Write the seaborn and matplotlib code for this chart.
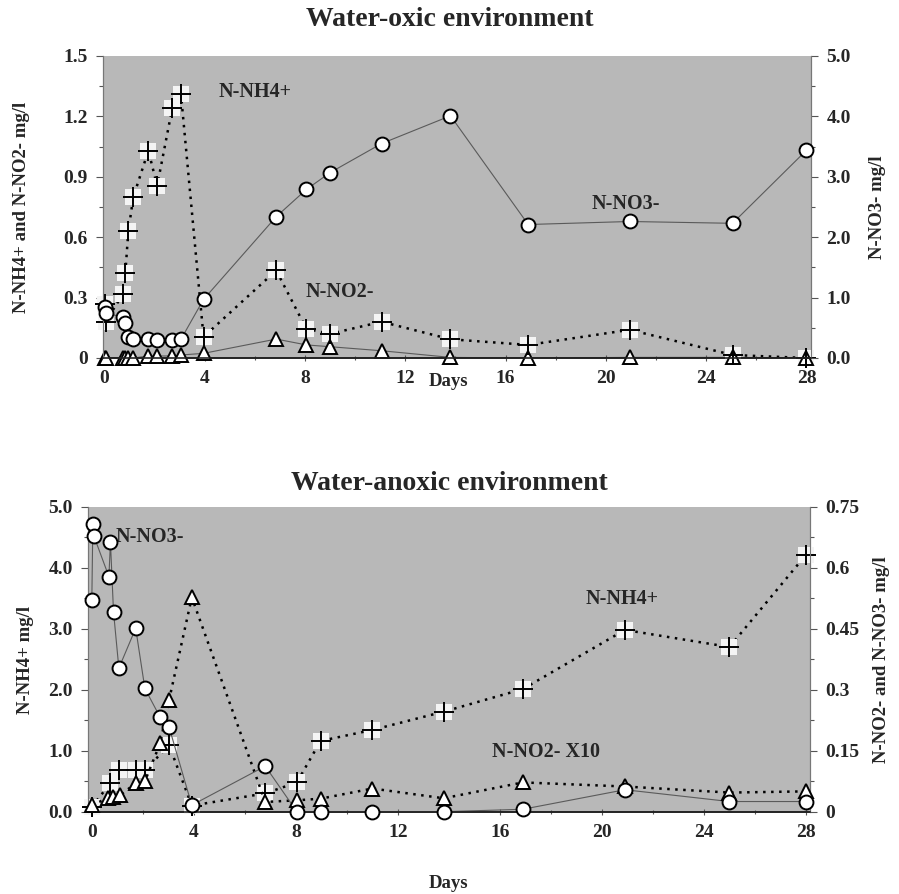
import numpy as np
import pandas as pd
import matplotlib
matplotlib.use("Agg")
import matplotlib.pyplot as plt
from matplotlib.ticker import MultipleLocator, FixedLocator, FixedFormatter
import seaborn as sns

# ---------------- data: top panel (Water-oxic environment) ----------------
oxic_days = [0, 0.04, 0.75, 0.83, 0.95, 1.15, 1.75, 2.1, 2.7, 3.05, 3.95,
             6.85, 8.05, 9.0, 11.05, 13.8, 16.9, 20.95, 25.05, 28]
oxic_nh4 = [0.27, 0.18, 0.32, 0.42, 0.63, 0.80, 1.03, 0.855, 1.24, 1.31, 0.105,
            0.435, 0.145, 0.12, 0.18, 0.093, 0.065, 0.14, 0.015, 0.0]
oxic_no2 = [0.0, 0.0, 0.0, 0.0, 0.0, 0.0, 0.01, 0.01, 0.01, 0.015, 0.023,
            0.094, 0.065, 0.056, 0.036, 0.003, 0.0, 0.003, 0.003, 0.0]
oxic_no3 = [0.85, 0.74, 0.68, 0.58, 0.35, 0.31, 0.31, 0.30, 0.30, 0.31, 0.97,
            2.34, 2.79, 3.07, 3.55, 4.01, 2.21, 2.26, 2.23, 3.44]

# ---------------- data: bottom panel (Water-anoxic environment) ----------------
anox_days_no3 = [0, 0.04, 0.08, 0.67, 0.73, 0.85, 1.06, 1.72, 2.08, 2.68, 3.03,
                 3.92, 6.8, 8.04, 8.97, 11.0, 13.8, 16.9, 20.9, 25.0, 28.0]
anox_no3 = [0.52, 0.708, 0.678, 0.578, 0.663, 0.492, 0.353, 0.451, 0.303, 0.232,
            0.208, 0.016, 0.112, 0.0, 0.0, 0.0, 0.0, 0.006, 0.054, 0.025, 0.025]

anox_days_nh4 = [0, 0.73, 1.06, 1.72, 2.08, 3.03, 3.92, 6.8, 8.04, 8.97, 11.0,
                 13.8, 16.9, 20.9, 25.0, 28.0]
anox_nh4 = [0.08, 0.47, 0.68, 0.68, 0.68, 1.09, 0.10, 0.30, 0.48, 1.16, 1.34,
            1.64, 2.01, 2.98, 2.70, 4.21]

anox_days_no2 = [0, 0.64, 0.84, 1.1, 1.72, 2.08, 2.68, 3.03, 3.92, 6.8, 8.04,
                 8.97, 11.0, 13.8, 16.9, 20.9, 25.0, 28.0]
anox_no2x10 = [0.017, 0.033, 0.037, 0.040, 0.070, 0.075, 0.168, 0.275, 0.527,
               0.024, 0.028, 0.032, 0.057, 0.033, 0.072, 0.062, 0.047, 0.050]

oxic_left_ticks = [0, 0.3, 0.6, 0.9, 1.2, 1.5]
oxic_left_labels = ["0", "0.3", "0.6", "0.9", "1.2", "1.5"]
oxic_right_ticks = [0, 1, 2, 3, 4, 5]
oxic_right_labels = ["0.0", "1.0", "2.0", "3.0", "4.0", "5.0"]
anox_left_ticks = [0, 1, 2, 3, 4, 5]
anox_left_labels = ["0.0", "1.0", "2.0", "3.0", "4.0", "5.0"]
anox_right_ticks = [0, 0.15, 0.3, 0.45, 0.6, 0.75]
anox_right_labels = ["0", "0.15", "0.3", "0.45", "0.6", "0.75"]
day_ticks = [0, 4, 8, 12, 16, 20, 24, 28]

# ---------------- style ----------------
sns.set_style("white")
plt.rcParams["font.family"] = ["Liberation Serif", "DejaVu Serif"]
plt.rcParams["font.weight"] = "bold"

BG = "#b8b8b8"
TICKFS = 14
LABFS = 13.5
ANNFS = 14.5
TITLEFS = 20
MS = 10

fig = plt.figure(figsize=(8.99, 8.94), dpi=100)
ax1 = fig.add_axes([103 / 899, 1 - 358 / 894, (811 - 103) / 899, (358 - 56) / 894])
ax3 = fig.add_axes([88 / 899, 1 - 811.7 / 894, (810 - 88) / 899, (811.7 - 506.7) / 894])


def circles(ax, x, y, ls="-", lc="#555555", lw=0.8):
    sns.lineplot(x=x, y=y, ax=ax, estimator=None, sort=False, color=lc,
                 linewidth=lw, linestyle=ls, zorder=2)
    sns.lineplot(x=x, y=y, ax=ax, estimator=None, sort=False, linewidth=0,
                 marker="o", markersize=MS, markerfacecolor="white",
                 markeredgecolor="black", markeredgewidth=1.4, color="black",
                 zorder=4, clip_on=False)


def triangles(ax, x, y, ls="-", lc="#555555", lw=0.8):
    sns.lineplot(x=x, y=y, ax=ax, estimator=None, sort=False, color=lc,
                 linewidth=lw, linestyle=ls, zorder=2)
    sns.lineplot(x=x, y=y, ax=ax, estimator=None, sort=False, linewidth=0,
                 marker="^", markersize=MS, markerfacecolor="white",
                 markeredgecolor="black", markeredgewidth=1.4, color="black",
                 zorder=4, clip_on=False)


def pluses(ax, x, y):
    sns.lineplot(x=x, y=y, ax=ax, estimator=None, sort=False, color="black",
                 linewidth=1.8, linestyle=(0, (1, 2.2)), zorder=2)
    sns.lineplot(x=x, y=y, ax=ax, estimator=None, sort=False, linewidth=0,
                 marker="s", markersize=12, markerfacecolor="#f4f4f4",
                 markeredgecolor="#f4f4f4", markeredgewidth=0, color="white",
                 zorder=3, clip_on=False)
    sns.lineplot(x=x, y=y, ax=ax, estimator=None, sort=False, linewidth=0,
                 marker="+", markersize=14, markeredgecolor="black",
                 markeredgewidth=1.4, color="black", zorder=5, clip_on=False)


def style_axes(ax, axr, xlim, ylim, yrlim, lt, ll, rt, rl, lminor, rminor):
    ax.set_facecolor(BG)
    ax.set_xlim(*xlim)
    ax.set_ylim(*ylim)
    axr.set_ylim(*yrlim)
    ax.xaxis.set_major_locator(FixedLocator(day_ticks))
    ax.set_xticklabels([str(d) for d in day_ticks])
    ax.xaxis.set_minor_locator(MultipleLocator(2))
    ax.yaxis.set_major_locator(FixedLocator(lt))
    ax.yaxis.set_major_formatter(FixedFormatter(ll))
    ax.yaxis.set_minor_locator(MultipleLocator(lminor))
    axr.yaxis.set_major_locator(FixedLocator(rt))
    axr.yaxis.set_major_formatter(FixedFormatter(rl))
    axr.yaxis.set_minor_locator(MultipleLocator(rminor))
    for a in (ax, axr):
        a.spines["top"].set_visible(False)
        for s in ("left", "right"):
            a.spines[s].set_color("#777777")
            a.spines[s].set_linewidth(0.8)
        a.spines["bottom"].set_color("#222222")
        a.spines["bottom"].set_linewidth(1.2)
        a.tick_params(axis="both", which="major", labelsize=TICKFS, length=5,
                      width=0.8, color="#555555", pad=6)
        a.tick_params(axis="both", which="minor", length=3, width=0.8,
                      color="#555555")
        for t in a.get_xticklabels() + a.get_yticklabels():
            t.set_fontweight("bold")
    ax.tick_params(axis="x", which="both", direction="inout", bottom=True)
    ax.tick_params(axis="y", which="both", direction="out", left=True)
    axr.tick_params(axis="y", which="both", direction="out", right=True)
    axr.set_xlabel("")
    axr.set_ylabel("")
    ax.set_ylabel("")
    ax.set_xlabel("")


# ---------------- top panel ----------------
ax2 = ax1.twinx()
triangles(ax1, oxic_days, oxic_no2, ls="-", lc="#5a5a5a", lw=0.8)
pluses(ax1, oxic_days, oxic_nh4)
circles(ax2, oxic_days, oxic_no3, ls="-", lc="#5a5a5a", lw=0.8)
style_axes(ax1, ax2, (-0.06, 28.18), (0, 1.5), (0, 5.0),
           oxic_left_ticks, oxic_left_labels, oxic_right_ticks,
           oxic_right_labels, 0.15, 0.5)

fig.text(0.5, 1 - 20 / 894, "Water-oxic environment", ha="center",
         va="center", fontsize=TITLEFS, fontweight="bold")
fig.text(22 / 899, 1 - 207 / 894, "N-NH4+ and N-NO2- mg/l", rotation=90,
         ha="center", va="center", fontsize=LABFS, fontweight="bold")
fig.text(877 / 899, 1 - 207 / 894, "N-NO3- mg/l", rotation=90,
         ha="center", va="center", fontsize=LABFS, fontweight="bold")
fig.text(449 / 899, 1 - 382 / 894, "Days", ha="center", va="center",
         fontsize=LABFS, fontweight="bold")
ax1.text(4.55, 1.32, "N-NH4+", fontsize=ANNFS, fontweight="bold", va="center",
         ha="left", zorder=6)
ax1.text(9.4, 0.33, "N-NO2-", fontsize=ANNFS, fontweight="bold", va="center",
         ha="center", zorder=6)
ax1.text(20.8, 0.765, "N-NO3-", fontsize=ANNFS, fontweight="bold",
         va="center", ha="center", zorder=6)

# ---------------- bottom panel ----------------
ax4 = ax3.twinx()
pluses(ax3, anox_days_nh4, anox_nh4)
triangles(ax4, anox_days_no2, anox_no2x10, ls=(0, (1, 2.2)), lc="black", lw=1.8)
circles(ax4, anox_days_no3, anox_no3, ls="-", lc="#5a5a5a", lw=0.8)
style_axes(ax3, ax4, (-0.15, 28.16), (0, 5.0), (0, 0.75),
           anox_left_ticks, anox_left_labels, anox_right_ticks,
           anox_right_labels, 0.5, 0.075)

fig.text(0.5, 1 - 483 / 894, "Water-anoxic environment", ha="center",
         va="center", fontsize=TITLEFS, fontweight="bold")
fig.text(25 / 899, 1 - 660 / 894, "N-NH4+ mg/l", rotation=90,
         ha="center", va="center", fontsize=LABFS, fontweight="bold")
fig.text(882 / 899, 1 - 660 / 894, "N-NO2- and N-NO3- mg/l", rotation=90,
         ha="center", va="center", fontsize=LABFS, fontweight="bold")
fig.text(449 / 899, 1 - 883 / 894, "Days", ha="center", va="center",
         fontsize=LABFS, fontweight="bold")
ax3.text(0.95, 4.5, "N-NO3-", fontsize=ANNFS, fontweight="bold", va="center",
         ha="left", zorder=6)
ax3.text(20.8, 3.48, "N-NH4+", fontsize=ANNFS, fontweight="bold",
         va="center", ha="center", zorder=6)
ax3.text(17.8, 0.98, "N-NO2- X10", fontsize=ANNFS, fontweight="bold",
         va="center", ha="center", zorder=6)

fig.savefig("out.png", dpi=100, facecolor="white")
